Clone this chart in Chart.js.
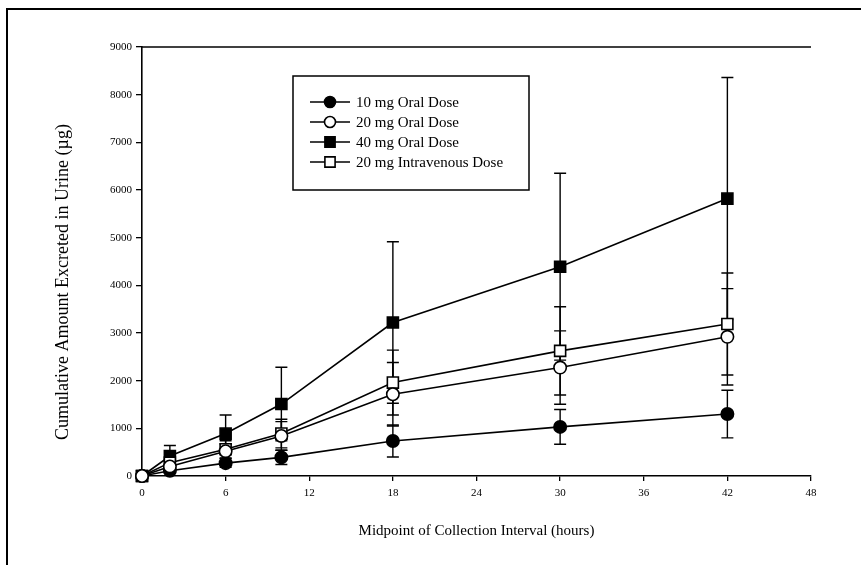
<!DOCTYPE html>
<html>
<head>
<meta charset="utf-8">
<script src="https://cdn.jsdelivr.net/npm/chart.js@4.4.1/dist/chart.umd.min.js"></script>
<style>
  html, body { margin: 0; padding: 0; background: #fff; }
  #wrap { width: 865px; height: 565px; position: relative; }
</style>
</head>
<body>
<div id="wrap"><canvas id="excretionChart" width="865" height="565"></canvas></div>
<script>
// Midpoints of the collection intervals (hours)
const hours = [0, 2, 6, 10, 18, 30, 42];

// Cumulative amount excreted (µg)
const oral10 = [0, 110, 270, 390, 735, 1030, 1300];
const oral10Err = [0, 50, 90, 150, 335, 365, 500];

const oral20 = [0, 200, 520, 840, 1715, 2275, 2920];
const oral20Err = [0, 80, 150, 300, 665, 770, 1010];

const oral40 = [0, 420, 890, 1510, 3220, 4390, 5820];
const oral40Err = [0, 220, 390, 770, 1695, 1960, 2540];

const iv20 = [0, 280, 560, 890, 1960, 2625, 3190];
const iv20Err = [0, 100, 180, 300, 680, 925, 1070];

const seriesLabels = ['10 mg Oral Dose', '20 mg Oral Dose', '40 mg Oral Dose', '20 mg Intravenous Dose'];
const xTicks = [0, 6, 12, 18, 24, 30, 36, 42, 48];

const serif = "'Liberation Serif', 'DejaVu Serif', serif";

function toPoints(values) {
  return hours.map((h, i) => ({ x: h, y: values[i] }));
}

function makeDataset(label, values, errors, style, filled, order) {
  return {
    label: label,
    data: toPoints(values),
    errors: errors,
    order: order,
    borderColor: '#000',
    borderWidth: 1.6,
    pointStyle: style,
    pointRadius: style === 'rect' ? 7.8 : 6.2,
    pointBorderWidth: 1.6,
    pointBorderColor: '#000',
    pointBackgroundColor: filled ? '#000' : '#fff',
    tension: 0,
    fill: false
  };
}

// vertical error bars with caps, drawn under the markers
const errorBars = {
  id: 'errorBars',
  beforeDatasetsDraw(chart) {
    const ctx = chart.ctx;
    const xs = chart.scales.x, ys = chart.scales.y;
    ctx.save();
    ctx.strokeStyle = '#000';
    ctx.lineWidth = 1.4;
    chart.data.datasets.forEach(ds => {
      ds.data.forEach((p, i) => {
        const e = ds.errors[i];
        if (!e) return;
        const px = xs.getPixelForValue(p.x);
        const top = ys.getPixelForValue(p.y + e);
        const bot = ys.getPixelForValue(p.y - e);
        ctx.beginPath();
        ctx.moveTo(px, top); ctx.lineTo(px, bot);
        ctx.moveTo(px - 6, top); ctx.lineTo(px + 6, top);
        ctx.moveTo(px - 6, bot); ctx.lineTo(px + 6, bot);
        ctx.stroke();
      });
    });
    ctx.restore();
  }
};

// figure frame, plot top line, y title and the boxed legend
const decorations = {
  id: 'decorations',
  afterDraw(chart) {
    const ctx = chart.ctx;
    const area = chart.chartArea;
    ctx.save();
    ctx.strokeStyle = '#000';

    // outer frame of the scanned figure
    ctx.lineWidth = 2;
    ctx.beginPath();
    ctx.moveTo(7, 565); ctx.lineTo(7, 9); ctx.lineTo(861, 9);
    ctx.stroke();

    // top edge of the plot
    ctx.lineWidth = 1.5;
    ctx.beginPath();
    ctx.moveTo(area.left, area.top); ctx.lineTo(area.right, area.top);
    ctx.stroke();

    // y axis title
    ctx.fillStyle = '#000';
    ctx.font = '18px ' + serif;
    ctx.textAlign = 'center';
    ctx.textBaseline = 'middle';
    ctx.translate(63, 282);
    ctx.rotate(-Math.PI / 2);
    ctx.fillText('Cumulative Amount Excreted in Urine (\u00b5g)', 0, 0);
    ctx.restore();

    // legend
    ctx.save();
    ctx.strokeStyle = '#000';
    ctx.lineWidth = 1.5;
    ctx.strokeRect(293, 76, 236, 114);
    ctx.font = '15px ' + serif;
    ctx.fillStyle = '#000';
    ctx.textAlign = 'left';
    ctx.textBaseline = 'middle';
    const rowY = [102, 122, 142, 162];
    chart.data.datasets.forEach((ds, i) => {
      const y = rowY[i];
      ctx.lineWidth = 1.6;
      ctx.beginPath();
      ctx.moveTo(310, y); ctx.lineTo(350, y);
      ctx.stroke();
      ctx.fillStyle = ds.pointBackgroundColor;
      Chart.helpers.drawPoint(ctx, {
        pointStyle: ds.pointStyle,
        radius: ds.pointStyle === 'rect' ? 7.2 : 5.5,
        rotation: 0,
        borderWidth: 1.6
      }, 330, y);
      ctx.fillStyle = '#000';
      ctx.fillText(ds.label, 356, y + 1);
    });
    ctx.restore();
  }
};

const ctx = document.getElementById('excretionChart').getContext('2d');
new Chart(ctx, {
  type: 'line',
  data: {
    datasets: [
      makeDataset(seriesLabels[0], oral10, oral10Err, 'circle', true, 3),
      makeDataset(seriesLabels[1], oral20, oral20Err, 'circle', false, 0),
      makeDataset(seriesLabels[2], oral40, oral40Err, 'rect', true, 2),
      makeDataset(seriesLabels[3], iv20, iv20Err, 'rect', false, 1)
    ]
  },
  options: {
    responsive: false,
    animation: false,
    clip: false,
    layout: { padding: { top: 47, right: 54, bottom: 0, left: 0 } },
    plugins: {
      legend: { display: false },
      tooltip: { enabled: false }
    },
    scales: {
      x: {
        type: 'linear',
        min: 0,
        max: 48,
        afterBuildTicks: scale => { scale.ticks = xTicks.map(v => ({ value: v })); },
        afterFit: scale => { scale.height = 89; },
        grid: { drawOnChartArea: false, tickLength: 5, color: '#000', lineWidth: 1.3 },
        border: { color: '#000', width: 1.6 },
        ticks: { color: '#000', padding: 6, font: { family: serif, size: 11 } },
        title: {
          display: true,
          text: 'Midpoint of Collection Interval (hours)',
          color: '#000',
          font: { family: serif, size: 15 },
          padding: { top: 0, bottom: 25 }
        }
      },
      y: {
        min: 0,
        max: 9000,
        afterFit: scale => { scale.width = 142; },
        grid: { drawOnChartArea: false, tickLength: 6, color: '#000', lineWidth: 1.3 },
        border: { color: '#000', width: 1.6 },
        ticks: {
          stepSize: 1000,
          color: '#000',
          padding: 4,
          font: { family: serif, size: 11 },
          callback: v => String(v)
        }
      }
    }
  },
  plugins: [errorBars, decorations]
});
</script>
</body>
</html>
